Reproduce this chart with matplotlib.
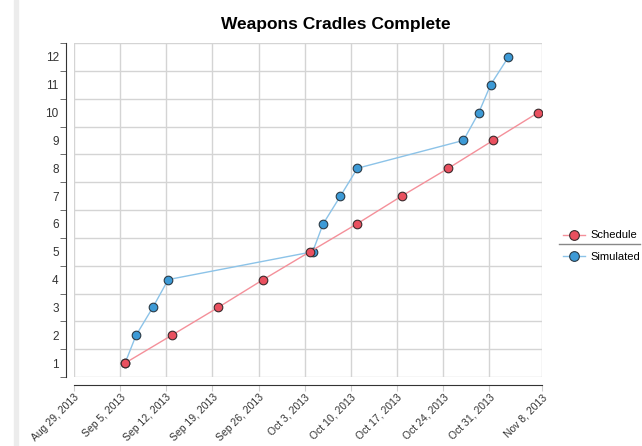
import matplotlib
matplotlib.use("Agg")
import matplotlib.pyplot as plt
import matplotlib.dates as mdates
from matplotlib.lines import Line2D
from matplotlib.patches import Rectangle
import pandas as pd

# data
schedule_dates = ["2013-09-05 18:00", "2013-09-12 20:00", "2013-09-19 21:00", "2013-09-26 17:00",
                  "2013-10-03 19:00", "2013-10-10 22:00", "2013-10-17 17:00", "2013-10-24 19:00",
                  "2013-10-31 14:00", "2013-11-07 10:00"]
schedule_vals = [1, 2, 3, 4, 5, 6, 7, 8, 9, 10]

simulated_dates = ["2013-09-05 18:00", "2013-09-07 10:00", "2013-09-09 23:00", "2013-09-12 07:00",
                   "2013-10-04 05:00", "2013-10-05 19:00", "2013-10-08 10:00", "2013-10-11 00:00",
                   "2013-10-27 02:00", "2013-10-29 10:00", "2013-10-31 05:00", "2013-11-02 22:00"]
simulated_vals = [1, 2, 3, 4, 5, 6, 7, 8, 9, 10, 11, 12]

tick_dates = ["2013-08-29", "2013-09-05", "2013-09-12", "2013-09-19", "2013-09-26", "2013-10-03",
              "2013-10-10", "2013-10-17", "2013-10-24", "2013-10-31", "2013-11-08"]
tick_labels = ["Aug 29, 2013", "Sep 5, 2013", "Sep 12, 2013", "Sep 19, 2013", "Sep 26, 2013",
               "Oct 3, 2013", "Oct 10, 2013", "Oct 17, 2013", "Oct 24, 2013", "Oct 31, 2013",
               "Nov 8, 2013"]
y_labels = [str(i) for i in range(1, 13)]

plt.rcParams['font.family'] = ['Liberation Sans', 'DejaVu Sans']

W, H = 642, 446
fig = plt.figure(figsize=(W / 100, H / 100), dpi=100)
fig.patches.append(Rectangle((14 / W, 0), 4 / W, 1, transform=fig.transFigure,
                             color="#ececec", zorder=0))

ax = fig.add_axes([74 / W, 1 - 377 / H, (542 - 74) / W, (377 - 43) / H])

# work in plain date numbers
sch_x = mdates.date2num(pd.to_datetime(schedule_dates))
sim_x = mdates.date2num(pd.to_datetime(simulated_dates))
tick_x = mdates.date2num(pd.to_datetime(tick_dates))

ax.plot(sim_x, simulated_vals, color="#8cc3e8", lw=1, marker="o", ms=6.2,
        mfc="#3d9ad6", mec="#2b3a45", mew=0.8, zorder=3, label="Simulated")
ax.plot(sch_x, schedule_vals, color="#f4909a", lw=1, marker="o", ms=6.2,
        mfc="#e9505f", mec="#3a2a2c", mew=0.8, zorder=4, label="Schedule")

ax.set_xlim(tick_x[0], tick_x[-1])
ax.set_ylim(0.5, 12.5)

ax.tick_params(axis="x", length=4, color="#cccccc", pad=1, labelsize=7.5,
               labelcolor="#333333")
ax.set_xticks(tick_x)
ax.set_xticklabels(tick_labels)

ax.set_yticks([i + 0.5 for i in range(0, 13)], minor=True)
ax.tick_params(axis="y", which="major", length=0, pad=5, labelsize=8.5, labelcolor="#333333")
ax.tick_params(axis="y", which="minor", length=4, color="#555555")
ax.set_yticks(range(1, 13))
ax.set_yticklabels(y_labels)

ax.grid(True, axis="x", which="major", color="#d4d4d4", lw=1)
ax.grid(True, axis="y", which="minor", color="#d4d4d4", lw=1)
ax.set_axisbelow(True)

for s in ["top", "right"]:
    ax.spines[s].set_visible(False)
ax.spines["left"].set_position(("outward", 6))
ax.spines["bottom"].set_position(("outward", 6))
ax.spines["left"].set_color("#333333")
ax.spines["bottom"].set_color("#333333")

fig.text(336 / W, 1 - 24 / H, "Weapons Cradles Complete", ha="center", va="center",
         fontsize=12.5, fontweight="bold")

# legend on the right with a separator line
handles = [
    Line2D([], [], color="#f4909a", lw=1, marker="o", ms=7, mfc="#e9505f", mec="#3a2a2c", mew=0.8),
    Line2D([], [], color="#8cc3e8", lw=1, marker="o", ms=7, mfc="#3d9ad6", mec="#2b3a45", mew=0.8),
]
fig.legend(handles, ["Schedule", "Simulated"], loc="center left",
           bbox_to_anchor=(553 / W, 1 - 246 / H), frameon=False, fontsize=8,
           handlelength=2.0, handletextpad=0.5, labelspacing=1.0)
fig.add_artist(Line2D([559 / W, 640 / W], [1 - 244 / H, 1 - 244 / H],
                      transform=fig.transFigure, color="#888888", lw=1))

# rotate the date labels last so nothing resets them
for lab in ax.get_xticklabels():
    lab.set_rotation(45)
    lab.set_ha("right")
    lab.set_va("top")
    lab.set_rotation_mode("anchor")

fig.savefig("out.png", dpi=100)
